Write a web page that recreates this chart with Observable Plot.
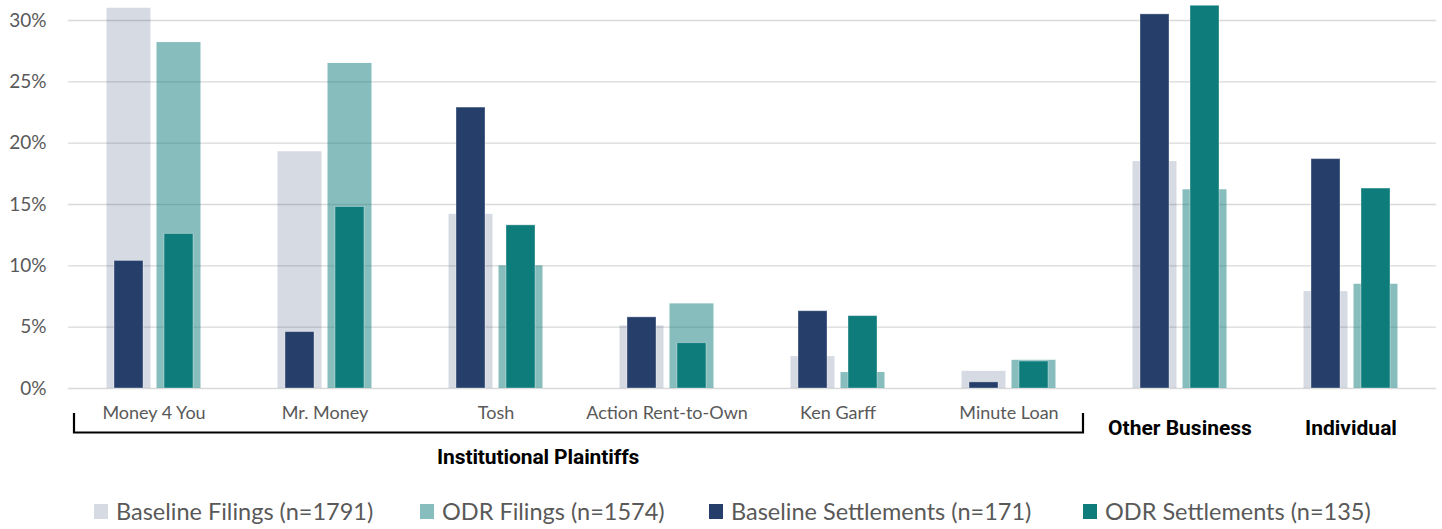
<!DOCTYPE html>
<html><head><meta charset="utf-8">
<script src="https://cdn.jsdelivr.net/npm/d3@7"></script>
<script src="https://cdn.jsdelivr.net/npm/@observablehq/plot@0.6"></script>
<style>
body{margin:0;background:#fff;width:1442px;height:529px;overflow:hidden;position:relative;font-family:Lato,"Open Sans",sans-serif;}
#legend{position:absolute;left:0;top:498px;width:1442px;height:28px;font-size:23.5px;color:#595959;line-height:26px;}
.item{position:absolute;top:0;display:flex;align-items:center;gap:8px;white-space:nowrap}
.sw{width:14px;height:15px;display:inline-block}
</style></head><body><div id="chart"></div><div id="legend"></div>
<script>
const categories = ["Money 4 You","Mr. Money","Tosh","Action Rent-to-Own","Ken Garff","Minute Loan","Other Business","Individual"];
const institutional = ["Money 4 You","Mr. Money","Tosh","Action Rent-to-Own","Ken Garff","Minute Loan"];
const otherGroups = ["Other Business","Individual"];
const groupLabel = "Institutional Plaintiffs";
const programs = ["Baseline","ODR"];
const baselineFilings = [31.0,19.3,14.2,5.1,2.6,1.4,18.5,7.9];
const odrFilings = [28.2,26.5,10.0,6.9,1.3,2.3,16.2,8.5];
const baselineSettlements = [10.4,4.6,22.9,5.8,6.3,0.5,30.5,18.7];
const odrSettlements = [12.6,14.8,13.3,3.7,5.9,2.2,31.2,16.3];
const yTicks = [0,5,10,15,20,25,30];
const seriesLabels = ["Baseline Filings (n=1791)","ODR Filings (n=1574)","Baseline Settlements (n=171)","ODR Settlements (n=135)"];

const NAVY = "#253e6a", TEAL = "#0f7c7c";
const rows = (vals, program) => categories.map((c,i)=>({category:c, program, value:vals[i]}));
const bf = rows(baselineFilings,"Baseline");
const of = rows(odrFilings,"ODR");
const bs = rows(baselineSettlements,"Baseline");
const os = rows(odrSettlements,"ODR");

const labelFont = "Lato, 'Open Sans', sans-serif";
const boldFont = "Roboto, 'Liberation Sans', sans-serif";

const plot = Plot.plot({
  width:1442, height:475,
  marginLeft:68, marginRight:6, marginTop:20, marginBottom:87,
  style:{fontFamily:labelFont, fontSize:"19px", color:"#595959", background:"#fff", overflow:"visible"},
  fx:{domain:categories, padding:0, axis:null, round:false},
  x:{domain:programs, paddingInner:0.12, paddingOuter:0.77, axis:null, round:false},
  y:{domain:[0,30], ticks:yTicks, tickFormat:d=>d+"%", tickSize:0, tickPadding:22, label:null},
  marks:[
    Plot.ruleY(yTicks, {stroke:"#d9d9d9", strokeWidth:1.3}),
    Plot.barY(bf, {fx:"category", x:"program", y:"value", fill:NAVY, fillOpacity:0.19}),
    Plot.barY(of, {fx:"category", x:"program", y:"value", fill:TEAL, fillOpacity:0.5}),
    Plot.barY(bs, {fx:"category", x:"program", y:"value", fill:NAVY, insetLeft:7.5, insetRight:7.5, stroke:"#fff", strokeOpacity:0.35, strokeWidth:1}),
    Plot.barY(os, {fx:"category", x:"program", y:"value", fill:TEAL, insetLeft:7.5, insetRight:7.5, stroke:"#fff", strokeOpacity:0.35, strokeWidth:1}),
    Plot.text(institutional, {fx:d=>d, text:d=>d, frameAnchor:"bottom", dy:30, fill:"#595959", fontSize:18, fontFamily:labelFont}),
    Plot.text(otherGroups, {fx:d=>d, text:d=>d, frameAnchor:"bottom", dy:46, fill:"#000", fontSize:21, fontWeight:"bold", fontFamily:boldFont, letterSpacing:"-0.2px"})
  ]
});
document.getElementById("chart").appendChild(plot);

// bracket under the institutional plaintiffs, positioned from the fx scale
const fx = plot.scale("fx");
const bw = fx.bandwidth;
const left = fx.apply(institutional[0]) + 6;
const right = fx.apply(institutional[institutional.length-1]) + bw - 11;
const y0 = plot.scale("y").apply(0);
const svg = d3.select(plot);
svg.append("path")
  .attr("d", `M${left},${y0+25}V${y0+44.5}H${right}V${y0+25}`)
  .attr("fill","none").attr("stroke","#000").attr("stroke-width",2.2);
svg.append("text")
  .attr("x", left + (right-left)*0.46).attr("y", y0+70)
  .attr("text-anchor","middle").attr("dominant-baseline","middle")
  .attr("font-family", boldFont).attr("font-weight","bold").attr("font-size",21)
  .attr("letter-spacing","-0.1px").attr("fill","#000")
  .text(groupLabel);

// legend
const legendColors = [[NAVY,0.19],[TEAL,0.5],[NAVY,1],[TEAL,1]];
const legendLeft = [94, 420, 709, 1083];
const legend = d3.select("#legend");
seriesLabels.forEach((s,i)=>{
  const it = legend.append("div").attr("class","item").style("left", legendLeft[i]+"px");
  it.append("span").attr("class","sw").style("background",legendColors[i][0]).style("opacity",legendColors[i][1]);
  it.append("span").text(s);
});
</script></body></html>
